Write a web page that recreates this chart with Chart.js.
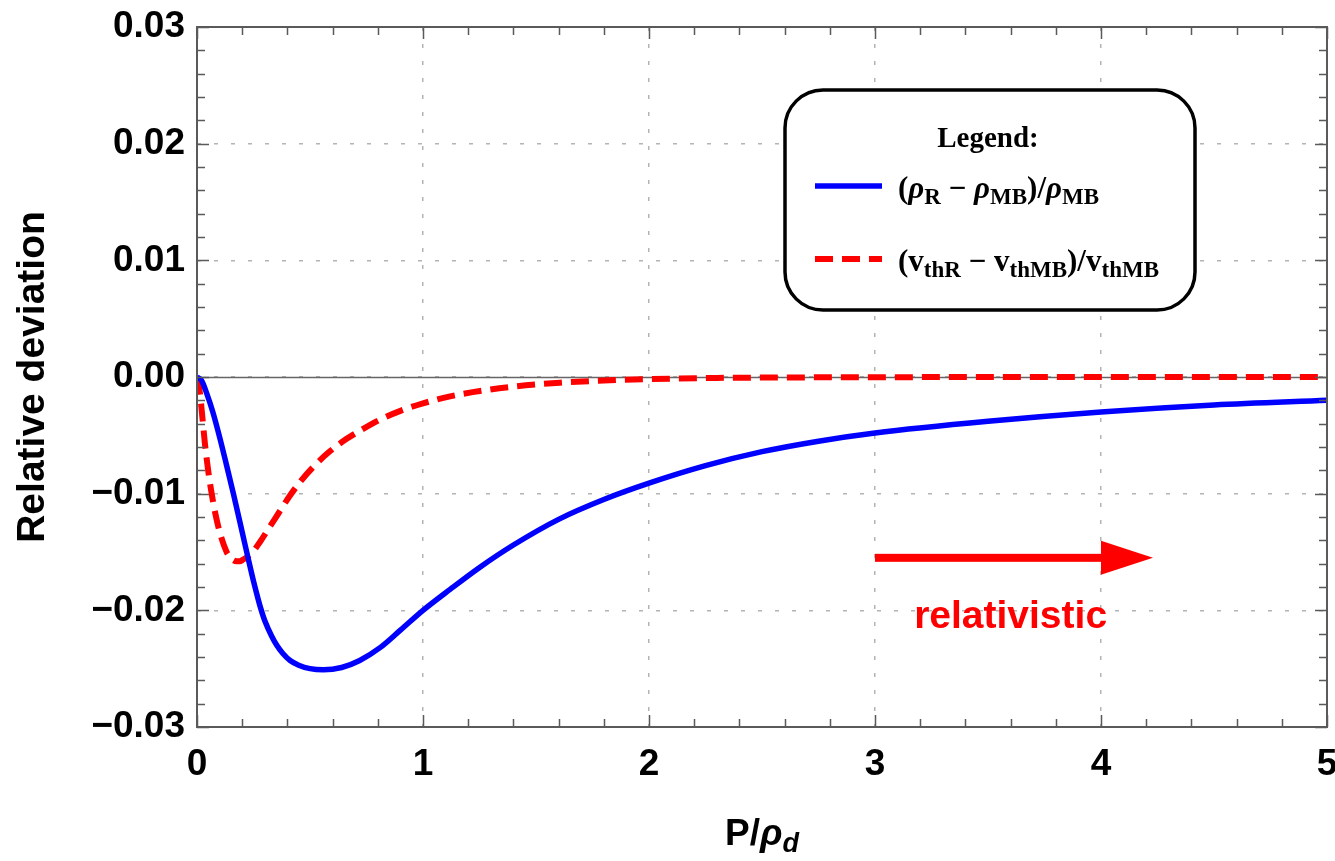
<!DOCTYPE html>
<html lang="en">
<head>
<meta charset="UTF-8">
<title>Relative deviation</title>
<style>
  body { margin: 0; background: #fff; }
  #wrap { width: 1335px; height: 861px; }
</style>
</head>
<body>
<div id="wrap"><canvas id="dev" width="1335" height="861"></canvas></div>
<script src="https://cdn.jsdelivr.net/npm/chart.js"></script>
<script>
// density deviation (rho_R - rho_MB)/rho_MB against P/rho_d
const pRho = [0, 0.02, 0.043, 0.07, 0.102, 0.13, 0.161, 0.2, 0.227, 0.25, 0.27, 0.283, 0.3, 0.33,
  0.353, 0.38, 0.412, 0.45, 0.5, 0.559, 0.64, 0.72, 0.81, 0.9, 1.0, 1.12, 1.252, 1.4, 1.6, 1.8, 2.0,
  2.25, 2.5, 2.75, 3.0, 3.5, 4.0, 4.5, 5.0];
const devRho = [0, -0.0003, -0.0014, -0.0030, -0.0053, -0.0075, -0.0100, -0.0133, -0.0156, -0.0175,
  -0.0190, -0.0199, -0.0209, -0.0222, -0.0230, -0.0237, -0.0243, -0.0247, -0.0250, -0.0251,
  -0.0249, -0.0243, -0.0232, -0.0217, -0.0200, -0.0182, -0.0163, -0.0144, -0.0122, -0.0105,
  -0.0091, -0.0076, -0.0064, -0.0055, -0.0048, -0.0038, -0.0030, -0.0024, -0.0020];

// thermal speed deviation (v_thR - v_thMB)/v_thMB
const pVth = [0, 0.005, 0.013, 0.025, 0.035, 0.05, 0.065, 0.08, 0.102, 0.131, 0.145, 0.16, 0.176,
  0.19, 0.2, 0.242, 0.28, 0.323, 0.36, 0.41, 0.46, 0.515, 0.58, 0.662, 0.73, 0.81, 0.9, 1.0, 1.1,
  1.22, 1.4, 1.606, 1.8, 2.0, 2.3, 2.6, 3.0, 3.5, 4.0, 4.5, 5.0];
const devVth = [0, -0.0004, -0.0014, -0.0037, -0.0057, -0.0081, -0.0100, -0.0116, -0.0134, -0.0150,
  -0.0154, -0.0157, -0.0158, -0.0158, -0.0157, -0.0151, -0.0141, -0.0128, -0.0117, -0.0102,
  -0.0089, -0.0077, -0.0065, -0.0053, -0.0045, -0.00365, -0.0029, -0.00226, -0.00175, -0.0013,
  -0.00082, -0.00049, -0.0003, -0.00018, -0.00008, -0.00004, -0.00002, 0, 0, 0, 0];

const xTicks = [0, 1, 2, 3, 4, 5];
const yTicks = [-0.03, -0.02, -0.01, 0, 0.01, 0.02, 0.03];

const SANS = '"Liberation Sans", Arial, sans-serif';
const SERIF = '"Liberation Serif", "DejaVu Serif", serif';

// legend entries as rich text runs (dy shifts subscripts down)
const mainF = `bold 31px ${SERIF}`;
const italF = `bold italic 31px ${SERIF}`;
const subF = `bold 23px ${SERIF}`;
const legendRuns = [
  [{t: '(', f: mainF}, {t: 'ρ', f: italF}, {t: 'R', f: subF, dy: 6}, {t: ' − ', f: mainF},
   {t: 'ρ', f: italF}, {t: 'MB', f: subF, dy: 6}, {t: ')/', f: mainF}, {t: 'ρ', f: italF},
   {t: 'MB', f: subF, dy: 6}],
  [{t: '(v', f: mainF}, {t: 'thR', f: subF, dy: 6}, {t: ' − v', f: mainF},
   {t: 'thMB', f: subF, dy: 6}, {t: ')/v', f: mainF}, {t: 'thMB', f: subF, dy: 6}]
];

function drawRich(ctx, runs, x, y) {
  for (const r of runs) {
    ctx.font = r.f;
    ctx.fillText(r.t, x, y + (r.dy || 0));
    x += ctx.measureText(r.t).width;
  }
  return x;
}

function richWidth(ctx, runs) {
  let w = 0;
  for (const r of runs) { ctx.font = r.f; w += ctx.measureText(r.t).width; }
  return w;
}

const decor = {
  id: 'decor',
  beforeDatasetsDraw(chart) {
    const {ctx, chartArea: a, scales: {y}} = chart;
    const y0 = Math.round(y.getPixelForValue(0)) + 0.5;
    ctx.save();
    ctx.strokeStyle = '#666';
    ctx.lineWidth = 1.5;
    ctx.beginPath();
    ctx.moveTo(a.left, y0);
    ctx.lineTo(a.right, y0);
    ctx.stroke();
    ctx.restore();
  },
  afterDatasetsDraw(chart) {
    const {ctx, chartArea: a, scales: {x, y}} = chart;
    ctx.save();
    ctx.strokeStyle = '#5a5a5a';
    ctx.lineWidth = 2;
    ctx.strokeRect(a.left, a.top, a.right - a.left, a.bottom - a.top);
    ctx.lineWidth = 1.5;
    ctx.beginPath();
    // ticks on all four sides, 5 subdivisions per major step
    for (let i = 0; i <= 25; i++) {
      const px = Math.round(x.getPixelForValue(i / 5)) + 0.5;
      const len = i % 5 === 0 ? 12 : 8;
      ctx.moveTo(px, a.bottom); ctx.lineTo(px, a.bottom - len);
      ctx.moveTo(px, a.top); ctx.lineTo(px, a.top + len);
    }
    for (let i = 0; i <= 30; i++) {
      const py = Math.round(y.getPixelForValue(-0.03 + i * 0.002)) + 0.5;
      const len = i % 5 === 0 ? 12 : 8;
      ctx.moveTo(a.left, py); ctx.lineTo(a.left + len, py);
      ctx.moveTo(a.right, py); ctx.lineTo(a.right - len, py);
    }
    ctx.stroke();
    ctx.restore();
  },
  afterDraw(chart) {
    const {ctx, chartArea: a, scales: {x, y}} = chart;
    ctx.save();

    // axis titles
    ctx.fillStyle = '#000';
    ctx.textBaseline = 'alphabetic';
    const xt = [{t: 'P/', f: `bold 37px ${SANS}`}, {t: 'ρ', f: `bold italic 37px ${SANS}`},
      {t: 'd', f: `bold italic 27px ${SANS}`, dy: 7}];
    drawRich(ctx, xt, (a.left + a.right) / 2 - richWidth(ctx, xt) / 2, 845);
    ctx.save();
    ctx.translate(33, (a.top + a.bottom) / 2);
    ctx.rotate(-Math.PI / 2);
    ctx.font = `bold 39px ${SANS}`;
    ctx.textAlign = 'center';
    ctx.textBaseline = 'middle';
    ctx.fillText('Relative deviation', 0, 0);
    ctx.restore();

    // arrow towards the relativistic regime
    const ay = y.getPixelForValue(-0.0155);
    const ax0 = x.getPixelForValue(3.0);
    const tip = x.getPixelForValue(4.23);
    ctx.fillStyle = '#ff0000';
    ctx.fillRect(ax0, ay - 4, tip - 50 - ax0, 8);
    ctx.beginPath();
    ctx.moveTo(tip - 52, ay - 17);
    ctx.lineTo(tip, ay);
    ctx.lineTo(tip - 52, ay + 17);
    ctx.closePath();
    ctx.fill();
    ctx.font = `bold 39px ${SANS}`;
    ctx.textAlign = 'center';
    ctx.textBaseline = 'alphabetic';
    ctx.fillText('relativistic', x.getPixelForValue(3.6), y.getPixelForValue(-0.0215));

    // legend box
    ctx.strokeStyle = '#000';
    ctx.lineWidth = 3.5;
    ctx.fillStyle = '#fff';
    ctx.beginPath();
    ctx.roundRect(785, 90, 410, 220, 38);
    ctx.fill();
    ctx.stroke();
    ctx.fillStyle = '#000';
    ctx.font = `bold 29px ${SERIF}`;
    ctx.textAlign = 'center';
    ctx.fillText('Legend:', 988, 147);
    ctx.textAlign = 'left';
    const ds = chart.data.datasets;
    const rows = [186, 259];
    rows.forEach((ry, i) => {
      ctx.strokeStyle = ds[i].borderColor;
      ctx.lineWidth = ds[i].borderWidth;
      ctx.setLineDash(ds[i].borderDash || []);
      ctx.beginPath();
      ctx.moveTo(815, ry);
      ctx.lineTo(882, ry);
      ctx.stroke();
      ctx.setLineDash([]);
      ctx.fillStyle = '#000';
      drawRich(ctx, legendRuns[i], 898, ry + 12);
    });
    ctx.restore();
  }
};

const tickFont = {family: SANS, size: 37, weight: 'bold'};

new Chart(document.getElementById('dev'), {
  type: 'line',
  data: {
    datasets: [
      {
        label: 'density',
        data: pRho.map((p, i) => ({x: p, y: devRho[i]})),
        borderColor: '#0000ff',
        borderWidth: 5.5,
        pointRadius: 0,
        cubicInterpolationMode: 'monotone',
        borderJoinStyle: 'round',
        fill: false
      },
      {
        label: 'thermal speed',
        data: pVth.map((p, i) => ({x: p, y: devVth[i]})),
        borderColor: '#ff0000',
        borderWidth: 6,
        borderDash: [18, 9],
        pointRadius: 0,
        cubicInterpolationMode: 'monotone',
        fill: false
      }
    ]
  },
  options: {
    responsive: false,
    animation: false,
    devicePixelRatio: 1,
    layout: {padding: {top: 27, right: 8, left: 0, bottom: 0}},
    plugins: {legend: {display: false}, tooltip: {enabled: false}},
    scales: {
      x: {
        type: 'linear',
        min: 0,
        max: 5,
        afterBuildTicks: s => { s.ticks = xTicks.map(v => ({value: v})); },
        afterFit: s => { s.height = 134; s.paddingLeft = 0; s.paddingRight = 0; },
        grid: {color: '#b4b4b4', lineWidth: 1.5, drawTicks: false},
        border: {display: false, dash: [4, 13]},
        ticks: {color: '#000', font: tickFont, padding: 16, maxRotation: 0, autoSkip: false}
      },
      y: {
        type: 'linear',
        min: -0.03,
        max: 0.03,
        afterBuildTicks: s => { s.ticks = yTicks.map(v => ({value: v})); },
        afterFit: s => { s.width = 197; s.paddingTop = 0; s.paddingBottom = 0; },
        grid: {color: '#b4b4b4', lineWidth: 1.5, drawTicks: false},
        border: {display: false, dash: [4, 13]},
        ticks: {
          color: '#000',
          font: tickFont,
          padding: 12,
          autoSkip: false,
          callback: v => (Math.abs(v) < 1e-9 ? '0.00' : v.toFixed(2)).replace('-', '\u2212')
        }
      }
    }
  },
  plugins: [decor]
});
</script>
</body>
</html>
